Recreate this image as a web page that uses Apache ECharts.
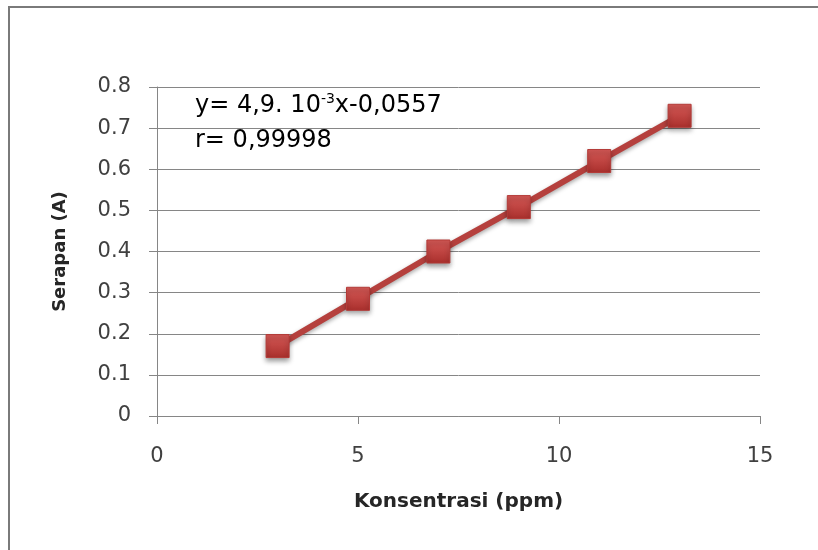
<!DOCTYPE html>
<html>
<head>
<meta charset="utf-8">
<script src="https://cdn.jsdelivr.net/npm/echarts@6/dist/echarts.min.js"></script>
<style>
html,body{margin:0;padding:0;background:#fff;}
#c{width:818px;height:550px;}
</style>
</head>
<body>
<div id="c"></div>
<script>
// Data
var concentrations = [3, 5, 7, 9, 11, 13];
var absorbance = [0.17, 0.285, 0.40, 0.508, 0.62, 0.73];
var yTickLabels = ['0', '0.1', '0.2', '0.3', '0.4', '0.5', '0.6', '0.7', '0.8'];
var xTickLabels = ['0', '5', '10', '15'];
var xTitle = 'Konsentrasi (ppm)';
var yTitle = 'Serapan (A)';
var eqLine1a = 'y= 4,9. 10';
var eqSup = '-3';
var eqLine1b = 'x-0,0557';
var eqLine2 = 'r= 0,99998';

var FONT = '"DejaVu Sans", sans-serif';
var chart = echarts.init(document.getElementById('c'), null, {renderer: 'canvas'});

var points = concentrations.map(function (x, i) { return [x, absorbance[i]]; });

chart.setOption({
  backgroundColor: '#ffffff',
  animation: false,
  grid: {left: 157, right: 58, top: 87, bottom: 134},
  xAxis: {
    type: 'value', min: 0, max: 15, interval: 5,
    name: xTitle, nameLocation: 'middle', nameGap: 76,
    nameTextStyle: {fontFamily: FONT, fontWeight: 'bold', fontSize: 20, color: '#262626'},
    axisLine: {show: true, lineStyle: {color: '#868686', width: 1}},
    axisTick: {show: true, length: 8, lineStyle: {color: '#868686'}},
    axisLabel: {margin: 30, fontFamily: FONT, fontSize: 21, color: '#404040',
      formatter: function (v) { return xTickLabels[Math.round(v / 5)]; }},
    splitLine: {show: false}
  },
  yAxis: {
    type: 'value', min: 0, max: 0.8, interval: 0.1,
    name: yTitle, nameLocation: 'middle', nameGap: 88, nameRotate: 90,
    nameTextStyle: {fontFamily: FONT, fontWeight: 'bold', fontSize: 18, color: '#262626'},
    axisLine: {show: true, lineStyle: {color: '#868686', width: 1}},
    axisTick: {show: true, length: 8, lineStyle: {color: '#868686'}},
    axisLabel: {margin: 26, fontFamily: FONT, fontSize: 21, color: '#404040',
      formatter: function (v) { return yTickLabels[Math.round(v * 10)]; }},
    splitLine: {show: true, lineStyle: {color: '#868686', width: 1}}
  },
  series: [{
    type: 'line',
    data: points,
    symbol: 'rect',
    symbolSize: 23,
    lineStyle: {color: '#b5403d', width: 6, shadowColor: 'rgba(0,0,0,0.35)', shadowBlur: 4, shadowOffsetY: 2},
    itemStyle: {
      color: new echarts.graphic.LinearGradient(0, 0, 0, 1, [
        {offset: 0, color: '#d65a57'}, {offset: 1, color: '#a92f2c'}
      ]),
      borderColor: '#b33a37', borderWidth: 1,
      shadowColor: 'rgba(0,0,0,0.4)', shadowBlur: 5, shadowOffsetY: 3
    },
    z: 3
  }],
  graphic: [
    {type: 'rect', shape: {x: 9, y: 7, width: 900, height: 700},
      style: {fill: 'none', stroke: '#7a7a7a', lineWidth: 2}, z: 0, silent: true},
    {type: 'text', left: 195, top: 92, z: 10,
      style: {
        text: '{a|' + eqLine1a + '}{s|' + eqSup + '}{a|' + eqLine1b + '}\n{a|' + eqLine2 + '}',
        rich: {
          a: {fontFamily: FONT, fontSize: 24, color: '#404040', lineHeight: 35},
          s: {fontFamily: FONT, fontSize: 14, color: '#404040', lineHeight: 35, padding: [0, 0, 14, 0]}
        }
      }}
  ]
});
</script>
</body>
</html>
